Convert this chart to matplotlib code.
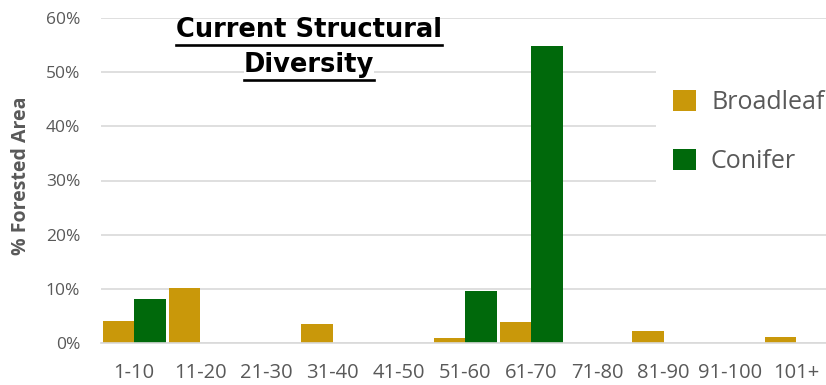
import matplotlib
matplotlib.use("Agg")
import matplotlib.pyplot as plt
import numpy as np
from matplotlib.patches import Rectangle, Patch
from matplotlib.lines import Line2D

# Data: % of forested area by structural class
categories = ["1-10", "11-20", "21-30", "31-40", "41-50", "51-60",
              "61-70", "71-80", "81-90", "91-100", "101+"]
broadleaf = [4.2, 10.2, 0, 3.6, 0, 1.0, 4.0, 0, 2.2, 0, 1.2]
conifer = [8.1, 0, 0, 0, 0, 9.7, 54.8, 0, 0, 0, 0]
y_ticks = [0, 10, 20, 30, 40, 50, 60]
series_names = ["Broadleaf", "Conifer"]
title_lines = ["Current Structural", "Diversity"]

BROAD = "#C9980A"
CONIF = "#00690B"
GREY = "#595959"
GRID = "#D9D9D9"

W, H = 826, 385
fig = plt.figure(figsize=(W / 100, H / 100), dpi=100)


def fx(px):
    return px / W


def fy(py):
    return (H - py) / H


ax = fig.add_axes([fx(101), fy(343.3), fx(826) - fx(101), fy(17.7) - fy(343.3)])
x = np.arange(len(categories))
bw = 0.476
ax.bar(x - bw / 2, broadleaf, bw, color=BROAD, zorder=2)
ax.bar(x + bw / 2, conifer, bw, color=CONIF, zorder=2)

ax.set_xlim(-0.5, -0.5 + 725 / 66.2)
ax.set_ylim(0, 60)
ax.set_yticks(y_ticks)
ax.set_yticklabels([f"{v}%" for v in y_ticks])
ax.set_xticks(x)
ax.set_xticklabels(categories)
ax.yaxis.grid(True, color=GRID, lw=1.2)
ax.set_axisbelow(True)
for s in ["top", "right", "left"]:
    ax.spines[s].set_visible(False)
ax.spines["bottom"].set_color(GRID)
ax.spines["bottom"].set_linewidth(1.2)
ax.tick_params(axis="both", length=0)
ax.tick_params(axis="y", pad=15, labelsize=12.5, labelcolor=GREY)
ax.tick_params(axis="x", pad=14, labelsize=14.5, labelcolor=GREY)
for lab in ax.get_xticklabels() + ax.get_yticklabels():
    lab.set_fontfamily("Open Sans")

fig.text(fx(21.5), fy(175.5), "% Forested Area", rotation=90, ha="center",
         va="center", fontsize=14, fontweight="bold", color=GREY,
         family="Open Sans")

# white panel behind the legend
fig.add_artist(Rectangle((fx(656), fy(205)), fx(826) - fx(656), fy(45) - fy(205),
                         transform=fig.transFigure, facecolor="white",
                         edgecolor="none", zorder=1))

handles = [Patch(facecolor=BROAD, edgecolor="none"),
           Patch(facecolor=CONIF, edgecolor="none")]
leg = fig.legend(handles, series_names, loc="upper left",
                 bbox_to_anchor=(fx(673), fy(90)), frameon=False,
                 handlelength=0.92, handleheight=0.92, handletextpad=0.6,
                 labelspacing=1.36, borderpad=0, borderaxespad=0,
                 prop={"family": "Open Sans", "size": 18})
leg.set_zorder(2)
for t in leg.get_texts():
    t.set_color(GREY)

# underlined two-line title
baselines = [37, 72]
underlines = [45, 80]
texts = []
for line, b in zip(title_lines, baselines):
    t = fig.text(fx(309), fy(b), line, ha="center", va="baseline",
                 fontsize=18.5, fontweight="bold", color="black",
                 family="DejaVu Sans", zorder=3)
    texts.append(t)
texts[1].set_bbox(dict(facecolor="white", edgecolor="none", pad=0))

fig.canvas.draw()
renderer = fig.canvas.get_renderer()
inv = fig.transFigure.inverted()
for t, u in zip(texts, underlines):
    bb = t.get_window_extent(renderer)
    (x0, _), (x1, _) = inv.transform([(bb.x0, 0), (bb.x1, 0)])
    fig.add_artist(Line2D([x0, x1], [fy(u), fy(u)], transform=fig.transFigure,
                          color="black", lw=1.9, zorder=3))

fig.savefig("out.png", dpi=100)
